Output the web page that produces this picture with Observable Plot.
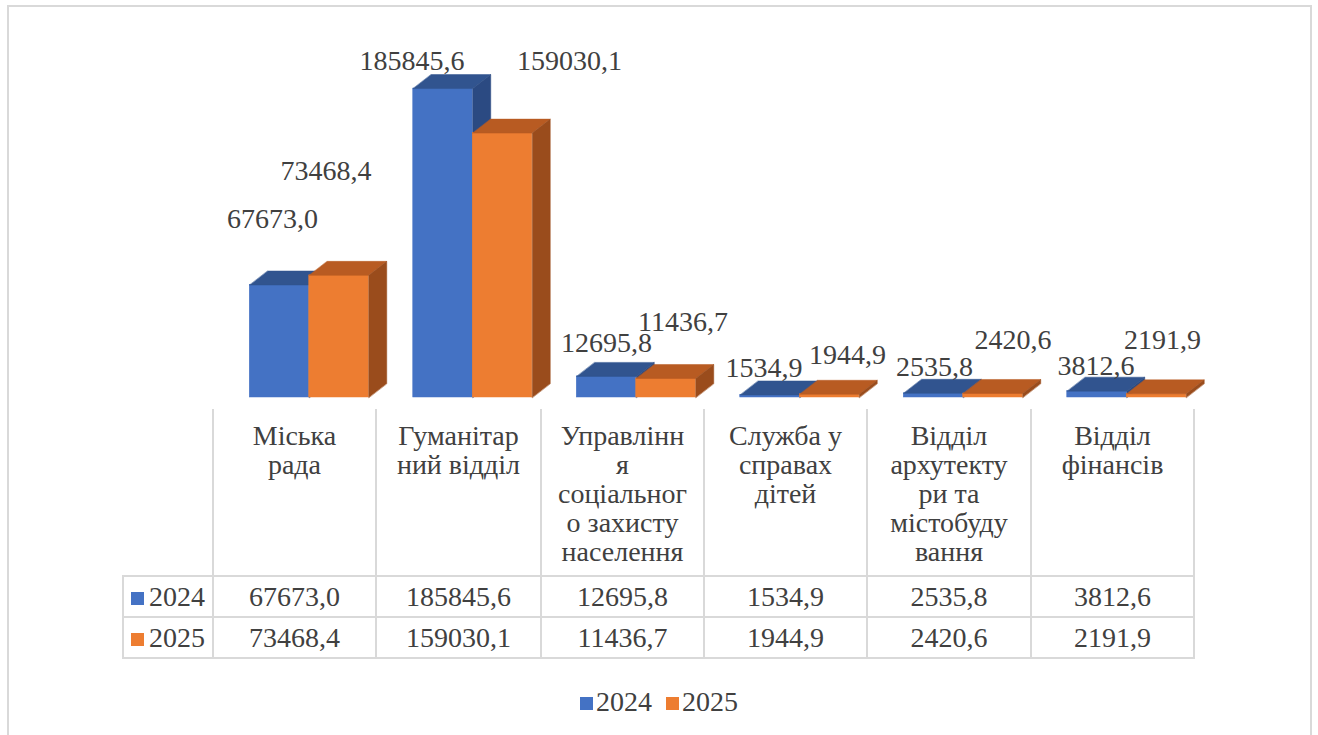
<!DOCTYPE html>
<html>
<head>
<meta charset="utf-8">
<script src="https://cdn.jsdelivr.net/npm/d3@7"></script>
<script src="https://cdn.jsdelivr.net/npm/@observablehq/plot@0.6"></script>
<style>
  html, body { margin: 0; padding: 0; background: #fff; }
  body { width: 1318px; height: 735px; position: relative; overflow: hidden; color: #404040; }
  #frame { position: absolute; left: 7px; top: 5px; width: 1305px; height: 730px;
           border: 2px solid #d9d9d9; border-bottom: none; box-sizing: border-box; }
  #chart { position: absolute; left: 0; top: 0; }
  #chart svg { overflow: visible; }
  #tbl { position: absolute; left: 122px; top: 409px; border-collapse: collapse;
         table-layout: fixed; font-size: 28px; color: #404040; }
  #tbl td { border: 2px solid #d9d9d9; text-align: center; padding: 0; white-space: nowrap; }
  #tbl tr.head td { vertical-align: top; height: 167px; line-height: 29px; padding-top: 12px; box-sizing: border-box; border-top: none; }
  #tbl tr.head td.corner { border-left: none; }
  #tbl tr.val td { height: 39px; line-height: 37px; }
  #tbl td.rowhead { text-align: left; padding-left: 7px; }
  .key { display: inline-block; width: 13px; height: 13px; margin-right: 5px; vertical-align: 1px; }
  #legend { position: absolute; top: 686px; left: 0; width: 1318px; text-align: center;
            font-size: 28px; color: #404040; }
  #legend span.item { margin: 0 7px; }
  #legend .key { margin-right: 3px; }
</style>
</head>
<body style="font-family:'Liberation Serif', serif">
<div id="frame"></div>
<div id="chart"></div>
<table id="tbl" style="font-family:'Liberation Serif', serif"></table>
<div id="legend" style="font-family:'Liberation Serif', serif"></div>
<script>
// ---- data ----
const categories = [
  "Міська рада",
  "Гуманітарний відділ",
  "Управління соціального захисту населення",
  "Служба у справах дітей",
  "Відділ архутектури та містобудування",
  "Відділ фінансів"
];
// header lines as wrapped in the original table
const headerLines = [
  ["Міська", "рада"],
  ["Гуманітар", "ний відділ"],
  ["Управлінн", "я", "соціальног", "о захисту", "населення"],
  ["Служба у", "справах", "дітей"],
  ["Відділ", "архутекту", "ри та", "містобуду", "вання"],
  ["Відділ", "фінансів"]
];
const seriesNames = ["2024", "2025"];
const values2024 = [67673.0, 185845.6, 12695.8, 1534.9, 2535.8, 3812.6];
const values2025 = [73468.4, 159030.1, 11436.7, 1944.9, 2420.6, 2191.9];

// ---- style ----
const colors = {
  "2024": {front: "#4472c4", top: "#31548f", side: "#2b4a82"},
  "2025": {front: "#ed7d31", top: "#b85b22", side: "#9a4c1c"}
};
const fmt = v => v.toFixed(1).replace(".", ",");
const FONT = "'Liberation Serif', serif";

// geometry (pixels)
const xRange = [212, 1193];
const yDomain = [0, 200000];
const yRange = [397, 64.5];
const bandPx = (xRange[1] - xRange[0]) / categories.length;
const frontOffsets = {"2024": [-44.5, 15], "2025": [15, 74.5]};
const depthX = 18 / bandPx;                                              // in x units
const depthY = 14 * (yDomain[1] - yDomain[0]) / (yRange[0] - yRange[1]); // in y units
// data-label nudges (pixels) as placed in the original chart
const labelNudge = {
  "2024": [[-7, -66], [-31, -28], [0, -33], [-6, -27], [1, -26], [-1, -25]],
  "2025": [[-13, -104], [67, -72], [17, -56], [18, -39], [20, -53], [6, -54]]
};

const valuesBySeries = {"2024": values2024, "2025": values2025};

const fronts = [], tops = [], sides = [], labels = [];
seriesNames.forEach(s => {
  valuesBySeries[s].forEach((v, i) => {
    const c = i + 0.5;
    const xl = c + frontOffsets[s][0] / bandPx;
    const xr = c + frontOffsets[s][1] / bandPx;
    fronts.push({s, i, x1: xl, x2: xr, v});
    const tid = s + "-t-" + i, sid = s + "-s-" + i;
    tops.push({id: tid, s, i, x: xl, y: v}, {id: tid, s, i, x: xr, y: v},
              {id: tid, s, i, x: xr + depthX, y: v + depthY}, {id: tid, s, i, x: xl + depthX, y: v + depthY});
    sides.push({id: sid, s, i, x: xr, y: 0}, {id: sid, s, i, x: xr, y: v},
               {id: sid, s, i, x: xr + depthX, y: v + depthY}, {id: sid, s, i, x: xr + depthX, y: depthY});
    labels.push({s, i, x: (xl + xr) / 2, v, text: fmt(v)});
  });
});

const marks = [];
// draw category by category so right bars overlap left bars' sides
categories.forEach((_, i) => {
  seriesNames.forEach(s => {
    const col = colors[s];
    marks.push(Plot.rect(fronts.filter(d => d.s === s && d.i === i),
      {x1: "x1", x2: "x2", y1: 0, y2: "v", fill: col.front, stroke: col.front, strokeWidth: 0.5}));
    marks.push(Plot.line(tops.filter(d => d.s === s && d.i === i),
      {x: "x", y: "y", z: "id", fill: col.top, stroke: col.top, strokeWidth: 0.5, curve: "linear-closed"}));
    marks.push(Plot.line(sides.filter(d => d.s === s && d.i === i),
      {x: "x", y: "y", z: "id", fill: col.side, stroke: col.side, strokeWidth: 0.5, curve: "linear-closed"}));
  });
});
labels.forEach(d => {
  const [ndx, ndy] = labelNudge[d.s][d.i];
  marks.push(Plot.text([d], {
    x: "x", y: "v", text: "text", dx: ndx, dy: ndy,
    fontSize: 28, fill: "#404040"
  }));
});

const chart = Plot.plot({
  width: 1318,
  height: 405,
  marginLeft: 0, marginRight: 0, marginTop: 0, marginBottom: 0,
  x: {type: "linear", domain: [0, categories.length], range: xRange, axis: null},
  y: {type: "linear", domain: yDomain, range: yRange, axis: null},
  style: {background: "transparent", color: "#404040", overflow: "visible"},
  marks
});
chart.style.fontFamily = FONT;
chart.querySelectorAll("text, g").forEach(el => { el.style.fontFamily = FONT; });
document.getElementById("chart").appendChild(chart);

// ---- data table ----
const colW = [90, 163, 165, 163, 163, 164, 163];
const tbl = document.getElementById("tbl");
const cg = document.createElement("colgroup");
colW.forEach(w => { const c = document.createElement("col"); c.style.width = w + "px"; cg.appendChild(c); });
tbl.appendChild(cg);
const hr = document.createElement("tr"); hr.className = "head";
const corner = document.createElement("td"); corner.className = "corner"; hr.appendChild(corner);
headerLines.forEach((lines, i) => {
  const td = document.createElement("td");
  td.title = categories[i];
  td.innerHTML = lines.join("<br>");
  hr.appendChild(td);
});
tbl.appendChild(hr);
seriesNames.forEach(s => {
  const tr = document.createElement("tr"); tr.className = "val";
  const th = document.createElement("td"); th.className = "rowhead";
  th.innerHTML = `<span class="key" style="background:${colors[s].front}"></span>${s}`;
  tr.appendChild(th);
  valuesBySeries[s].forEach(v => {
    const td = document.createElement("td"); td.textContent = fmt(v); tr.appendChild(td);
  });
  tbl.appendChild(tr);
});
tbl.querySelectorAll("td").forEach(td => { td.style.fontFamily = FONT; });

// ---- legend ----
const lg = document.getElementById("legend");
lg.innerHTML = seriesNames.map(s =>
  `<span class="item"><span class="key" style="background:${colors[s].front}"></span>${s}</span>`).join("");
lg.querySelectorAll("span").forEach(sp => { sp.style.fontFamily = FONT; });
</script>
</body>
</html>
